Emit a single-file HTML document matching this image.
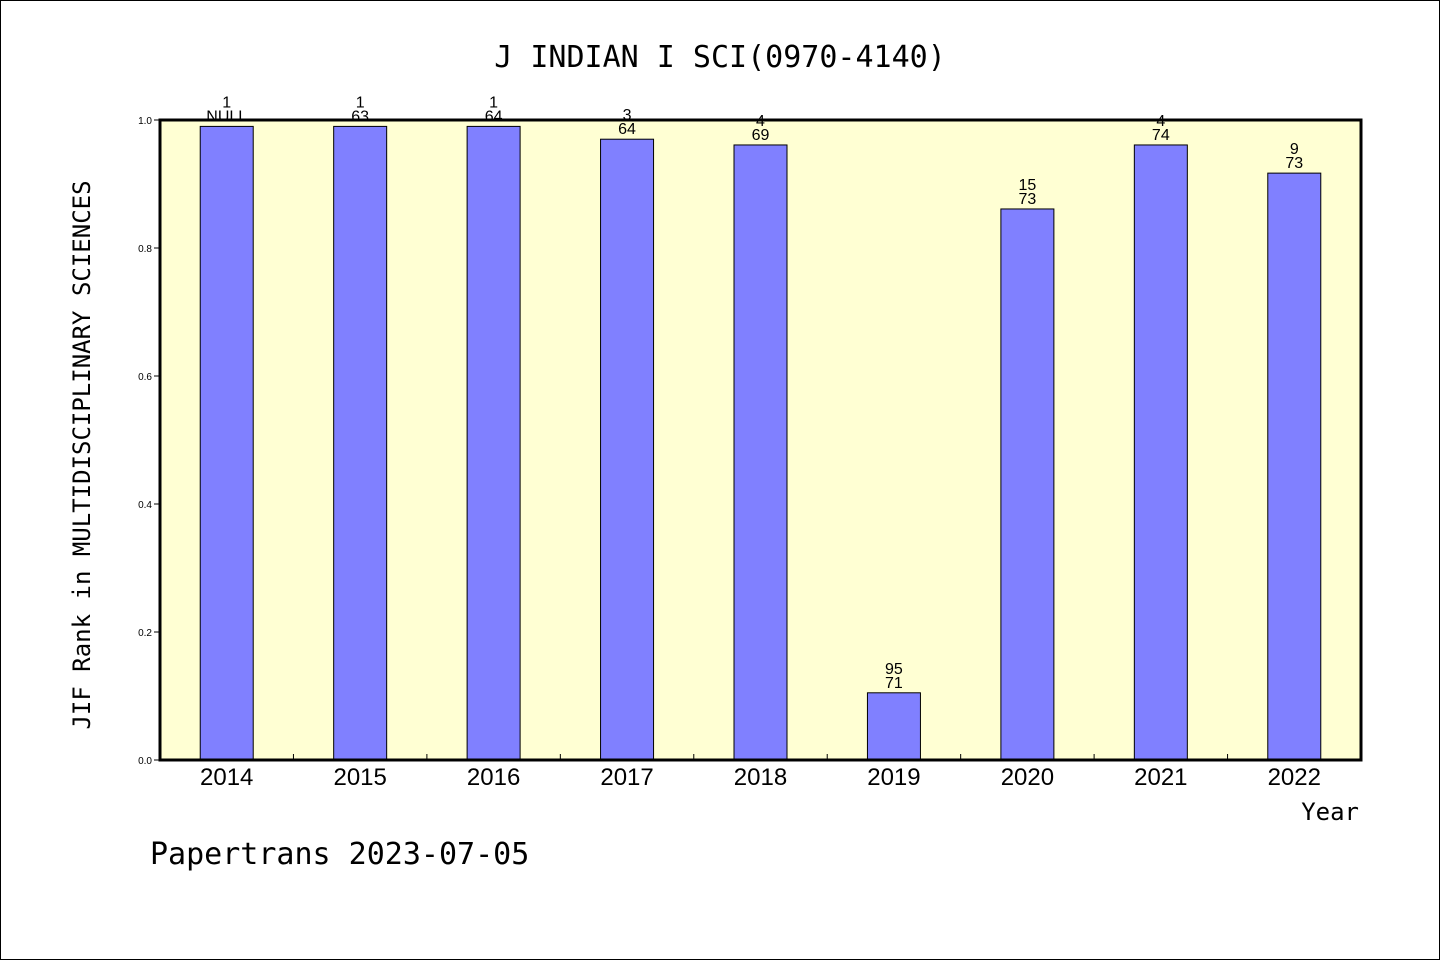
<!DOCTYPE html>
<html><head><meta charset="utf-8"><style>
html,body{margin:0;padding:0;background:#fff}
svg{display:block;font-family:"Liberation Sans","DejaVu Sans",sans-serif}
</style></head><body>
<svg id="chart" width="1440" height="960">
<rect x="0.5" y="0.5" width="1439" height="959" fill="#fff" stroke="#000"/>
<text x="720" y="67" text-anchor="middle" font-size="30" font-family="DejaVu Sans Mono, Liberation Mono, monospace">J INDIAN I SCI(0970-4140)</text>
<rect x="160" y="120" width="1201" height="640" fill="#ffffd3"/>
<g id="bars"></g>
<g id="labels"></g>
<rect x="160" y="120" width="1201" height="640" fill="none" stroke="#000" stroke-width="3"/>
<g id="axes"></g>
<text transform="translate(90,455) rotate(-90)" text-anchor="middle" font-size="24" font-family="DejaVu Sans Mono, Liberation Mono, monospace">JIF Rank in MULTIDISCIPLINARY SCIENCES</text>
<text x="1359" y="820" text-anchor="end" font-size="24" font-family="DejaVu Sans Mono, Liberation Mono, monospace">Year</text>
<text x="150" y="864" font-size="30" font-family="DejaVu Sans Mono, Liberation Mono, monospace">Papertrans 2023-07-05</text>
</svg>
<script>
const categories = ["2014","2015","2016","2017","2018","2019","2020","2021","2022"];
const values = [0.99, 0.99, 0.99, 0.97, 0.961, 0.105, 0.861, 0.961, 0.917];
const ranks = ["1","1","1","3","4","95","15","4","9"];
const totals = ["NULL","63","64","64","69","71","73","74","73"];
const yTicks = [0, 0.2, 0.4, 0.6, 0.8, 1.0];
const yTickLabels = ["0.0","0.2","0.4","0.6","0.8","1.0"];

const NS="http://www.w3.org/2000/svg";
const x0=160, x1=1361, yTop=120, yBot=760;
const band=(x1-x0)/categories.length;
const xc=i=>x0+band*(i+0.5);
const y=v=>yBot-(yBot-yTop)*v;
function mk(tag,attrs,parent,txt){const e=document.createElementNS(NS,tag);for(const k in attrs)e.setAttribute(k,attrs[k]);if(txt!=null)e.textContent=txt;parent.appendChild(e);return e;}
const gb=document.getElementById('bars'), gl=document.getElementById('labels'), ga=document.getElementById('axes');
const bw=53;
categories.forEach((c,i)=>{
  const top=y(values[i]);
  const r=mk('rect',{x:xc(i)-bw/2,y:top,width:bw,height:yBot-top,fill:'#8080ff',stroke:'#000','stroke-width':1},gb);
  
  
  const t1=mk('text',{x:xc(i),y:top-19,'text-anchor':'middle','font-size':16},gl,ranks[i]);
  
  
  const t2=mk('text',{x:xc(i),y:top-5,'text-anchor':'middle','font-size':16},gl,totals[i]);
  
  
  const xl=mk('text',{x:xc(i),y:785,'text-anchor':'middle','font-size':24},ga,c);
  
  
  if(i>0){
    const tk=mk('line',{x1:x0+band*i,x2:x0+band*i,y1:yBot,y2:yBot-6,stroke:'#000'},ga);
    
    
  }
});
yTicks.forEach((v,i)=>{
  const tk=mk('line',{x1:x0-6,x2:x0,y1:y(v),y2:y(v),stroke:'#000'},ga);
  
  
  const tl=mk('text',{x:x0-8,y:y(v)+4,'text-anchor':'end','font-size':10},ga,yTickLabels[i]);
  
  
});
</script>
</body></html>
